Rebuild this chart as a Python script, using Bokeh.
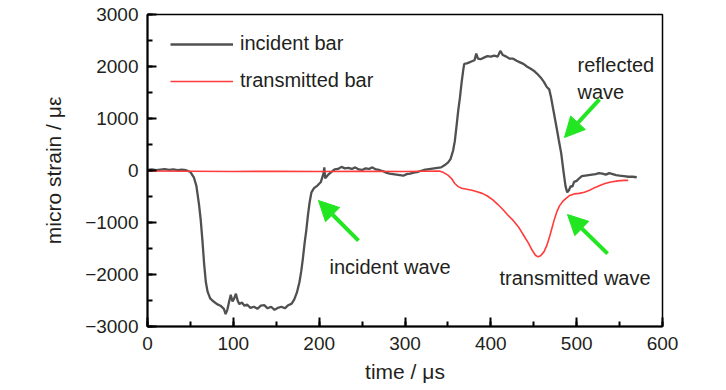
from bokeh.plotting import figure
from bokeh.models import (Range1d, SingleIntervalTicker, Legend, LegendItem, Label,
                          Arrow, NormalHead, CustomJSTickFormatter)
from bokeh.embed import file_html
from bokeh.resources import INLINE

# ---- data ----
incident_t = [0, 5, 10, 15, 20, 25, 30, 35, 40, 45, 50, 54, 57, 60, 62, 64, 66, 68, 70, 73,
              77, 81, 85, 89, 91, 93, 95, 97, 99, 101, 103, 105, 107, 110, 113, 116, 120, 124,
              128, 132, 136, 140, 144, 148, 152, 156, 160, 164, 168, 171, 174, 177, 179, 181,
              183, 185, 187, 189, 191, 194, 198, 202, 205, 206, 207, 210, 214, 218, 222, 226,
              230, 234, 238, 242, 246, 250, 254, 258, 262, 266, 270, 274, 278, 282, 286, 290,
              294, 298, 302, 306, 310, 314, 318, 322, 326, 330, 334, 338, 342, 346, 350, 353,
              356, 358, 360, 362, 364, 366, 368, 369, 372, 375, 378, 381, 383, 385, 388, 392,
              396, 400, 404, 408, 411, 414, 418, 422, 426, 430, 434, 438, 442, 446, 450, 454,
              458, 462, 465, 468, 470, 473, 476, 479, 482, 485, 487, 489, 491, 493, 495, 497,
              500, 503, 506, 510, 514, 518, 522, 526, 530, 534, 538, 542, 546, 550, 555, 560,
              565, 570]
incident_strain = [10, 20, 5, 15, 25, 10, 20, 5, 15, 5, -30, -130, -300, -650, -950, -1350,
                   -1800, -2150, -2330, -2460, -2520, -2570, -2600, -2660, -2760, -2680, -2530,
                   -2390, -2520, -2460, -2370, -2500, -2570, -2540, -2600, -2580, -2640, -2620,
                   -2660, -2600, -2590, -2650, -2620, -2680, -2640, -2620, -2650, -2590, -2560,
                   -2480, -2350, -2150, -1950, -1700, -1400, -1150, -850, -600, -420, -340, -290,
                   -220, -60, 60, -150, -90, -30, 20, 30, 70, 40, 50, 30, 60, 20, 10, 40, 30, 60,
                   20, 10, -10, -40, -60, -70, -80, -90, -100, -70, -60, -40, -30, -10, 10, 20,
                   30, 40, 50, 60, 100, 150, 220, 380, 560, 850, 1150, 1400, 1700, 1950, 2050,
                   2060, 2080, 2100, 2120, 2250, 2150, 2140, 2170, 2200, 2190, 2210, 2190, 2300,
                   2220, 2190, 2150, 2150, 2110, 2080, 2050, 2000, 1960, 1920, 1860, 1790, 1700,
                   1610, 1560, 1420, 1150, 880, 600, 330, -60, -300, -420, -380, -300, -310,
                   -220, -200, -150, -110, -100, -90, -80, -70, -50, -60, -80, -50, -70, -90,
                   -100, -110, -120, -120, -130]

transmitted_t = [0, 50, 100, 150, 200, 250, 300, 340, 345, 350, 354, 358, 362, 366, 372, 378,
                 384, 390, 396, 402, 408, 414, 420, 426, 432, 438, 444, 448, 452, 455, 458, 462,
                 465, 468, 471, 474, 477, 480, 484, 488, 492, 497, 503, 509, 515, 521, 527, 533,
                 540, 548, 555, 560]
transmitted_strain = [-10, -15, -20, -15, -20, -15, -20, -10, -40, -90, -150, -250, -310, -340,
                      -360, -380, -410, -440, -490, -560, -650, -750, -860, -960, -1080, -1240,
                      -1400, -1530, -1630, -1660, -1640, -1560, -1450, -1300, -1120, -940, -790,
                      -680, -590, -530, -480, -450, -440, -420, -380, -330, -290, -250, -220,
                      -200, -190, -190]

series_labels = ["incident bar", "transmitted bar"]

# annotations: (text, x, y) and arrows (x_start, y_start, x_end, y_end)
note_texts = ["reflected", "wave", "incident wave", "transmitted wave"]
note_x = [501, 501, 212, 410]
note_y = [2021, 1507, -1848, -2066]
arrow_x0 = [526.6, 245.8, 536.0]
arrow_y0 = [1367, -1347, -1598]
arrow_x1 = [485.8, 199.2, 489.3]
arrow_y1 = [635, -577, -847]

FONT = "Liberation Sans"
GREEN = "#22e622"

p = figure(width=726, height=390, output_backend="svg", toolbar_location=None,
           x_range=Range1d(0, 600), y_range=Range1d(-3000, 3000),
           min_border_left=147, min_border_top=14, min_border_right=64, min_border_bottom=64)

p.background_fill_color = "white"
p.border_fill_color = "white"
p.outline_line_color = "black"
p.outline_line_width = 1.5
p.xgrid.visible = False
p.ygrid.visible = False

r1 = p.line(incident_t, incident_strain, line_color="#505050", line_width=2.3)
r2 = p.line(transmitted_t, transmitted_strain, line_color="#ff3b3b", line_width=1.6)

p.xaxis.ticker = SingleIntervalTicker(interval=100, num_minor_ticks=2)
p.yaxis.ticker = SingleIntervalTicker(interval=1000, num_minor_ticks=2)
p.yaxis.formatter = CustomJSTickFormatter(
    code="return tick < 0 ? '\u2212' + Math.abs(tick) : tick.toString();")

for ax in (p.xaxis[0], p.yaxis[0]):
    ax.axis_line_width = 2
    ax.axis_line_color = "black"
    ax.major_tick_in = 9
    ax.major_tick_out = 0
    ax.minor_tick_in = 5
    ax.minor_tick_out = 0
    ax.major_tick_line_width = 2
    ax.minor_tick_line_width = 2
    ax.major_tick_line_color = "black"
    ax.minor_tick_line_color = "black"
    ax.major_label_text_font = FONT
    ax.major_label_text_font_size = "19px"
    ax.major_label_text_color = "#231f20"
    ax.axis_label_text_font = FONT
    ax.axis_label_text_font_size = "21px"
    ax.axis_label_text_font_style = "normal"
    ax.axis_label_text_color = "#231f20"

p.xaxis.axis_label = "time / \u03bcs"
p.yaxis.axis_label = "micro strain / \u03bc\u03b5"
p.xaxis.major_label_standoff = 10
p.yaxis.major_label_standoff = 9
p.xaxis.axis_label_standoff = 7
p.yaxis.axis_label_standoff = 17

legend = Legend(items=[LegendItem(label=series_labels[0], renderers=[r1]),
                       LegendItem(label=series_labels[1], renderers=[r2])],
                location=(23, 234), margin=0, padding=0, spacing=14,
                glyph_width=63, glyph_height=20, label_height=20, label_standoff=7,
                label_text_font=FONT, label_text_font_size="20px",
                label_text_color="#231f20",
                background_fill_alpha=0, border_line_alpha=0)
p.add_layout(legend)

for t, x, y in zip(note_texts, note_x, note_y):
    p.add_layout(Label(x=x, y=y, text=t, text_font=FONT, text_font_size="20px",
                       text_color="#231f20", text_baseline="alphabetic", text_align="left"))

for x0, y0, x1, y1 in zip(arrow_x0, arrow_y0, arrow_x1, arrow_y1):
    p.add_layout(Arrow(end=NormalHead(size=20, fill_color=GREEN, line_color=GREEN),
                       x_start=x0, y_start=y0, x_end=x1, y_end=y1,
                       line_color=GREEN, line_width=4))

open("out.html", "w").write(file_html(p, INLINE))
